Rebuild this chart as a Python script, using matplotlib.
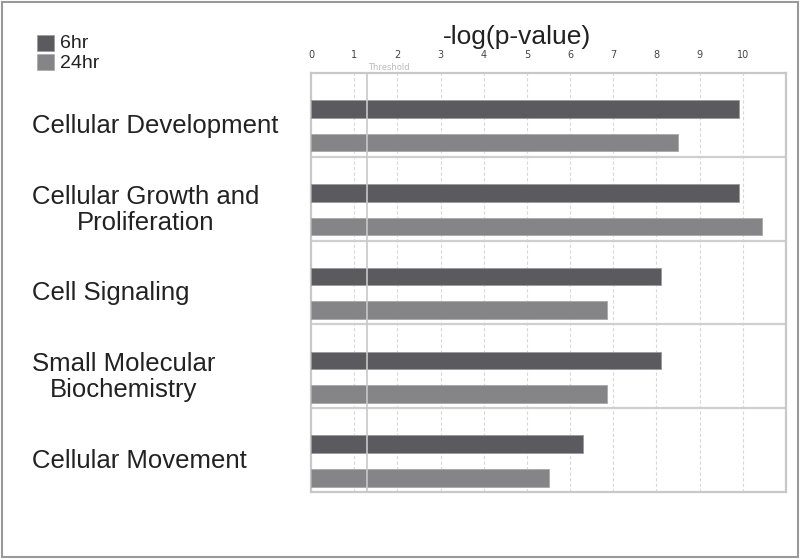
import matplotlib
matplotlib.use("Agg")
import matplotlib.pyplot as plt
import matplotlib.transforms as tr
from matplotlib.patches import Rectangle
import numpy as np

plt.rcParams['font.family'] = ['Liberation Sans', 'DejaVu Sans']

# data
categories = ['Cellular Development', 'Cellular Growth and\nProliferation',
              'Cell Signaling', 'Small Molecular\nBiochemistry', 'Cellular Movement']
hr6 = [9.9, 9.9, 8.1, 8.1, 6.3]
hr24 = [8.5, 10.45, 6.85, 6.85, 5.5]
threshold = 1.3
series = ['6hr', '24hr']
c6 = '#5b5b5f'
c24 = '#858587'

fig = plt.figure(figsize=(8, 5.59), dpi=100)
ax = fig.add_axes([311/800, 1-492/559, 475/800, 419/559])

y = np.arange(len(categories))
ax.barh(y + 0.43, hr6, height=0.21, color=c6, edgecolor='#9a9a9c', linewidth=0.6, zorder=3)
ax.barh(y + 0.83, hr24, height=0.21, color=c24, edgecolor='#a8a8aa', linewidth=0.6, zorder=3)

ax.set_xlim(0, 11)
ax.set_ylim(len(categories), 0)

# grid lines
for v in range(1, 11):
    ax.axvline(v, color='#d8d8d8', linestyle=(0, (3, 2)), linewidth=0.8, zorder=1)
ax.axvline(threshold, color='#c8c8c8', linewidth=1.2, zorder=4)
for r in range(1, len(categories)):
    ax.axhline(r, color='#cfcfcf', linewidth=1.6, zorder=2)

for s in ['left', 'right', 'top', 'bottom']:
    ax.spines[s].set_color('#c8c8c8')
    ax.spines[s].set_linewidth(1.6)

ax.xaxis.tick_top()
ax.set_xticks(range(0, 11))
ax.tick_params(axis='x', length=0, pad=9, labelsize=7, labelcolor='#444444')
for lab in ax.get_xticklabels():
    lab.set_family('DejaVu Sans')
ax.set_yticks([])

ax.text(threshold + 0.02, -0.035, 'Threshold', fontsize=6, color='#bbbbbb',
        family='DejaVu Sans', va='baseline', ha='left', zorder=5)

fig.text(517/800, 1-37/559, '-log(p-value)', fontsize=19, color='#222222',
         ha='center', va='center')

# category labels
bt = tr.blended_transform_factory(fig.transFigure, ax.transData)
for i, c in enumerate(categories):
    ax.text(32/800, i + 0.63, c, transform=bt, fontsize=18.5, color='#222222',
            ha='left', va='center', multialignment='center', linespacing=1.1)

# legend
fig.patches.append(Rectangle((37/800, 1-51/559), 17/800, 16/559, transform=fig.transFigure,
                             facecolor=c6, edgecolor='#9a9a9c', linewidth=0.5))
fig.patches.append(Rectangle((37/800, 1-70/559), 17/800, 16/559, transform=fig.transFigure,
                             facecolor=c24, edgecolor='#a8a8aa', linewidth=0.5))
fig.text(60/800, 1-44/559, series[0], fontsize=14, va='center', color='#222222')
fig.text(60/800, 1-63/559, series[1], fontsize=14, va='center', color='#222222')

# outer border
fig.patches.append(Rectangle((0.002, 0.003), 0.995, 0.994, transform=fig.transFigure,
                             fill=False, edgecolor='#999999', linewidth=1.5))

fig.savefig('out.png', dpi=100)
